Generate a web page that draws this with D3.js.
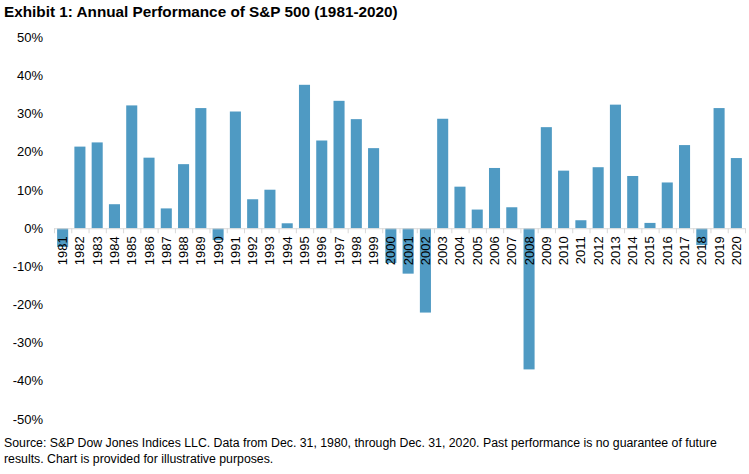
<!DOCTYPE html>
<html>
<head>
<meta charset="utf-8">
<script src="https://cdn.jsdelivr.net/npm/d3@7"></script>
<style>
  body { margin: 0; background: #fff; }
  text { font-family: Arial, "Liberation Sans", sans-serif; }
</style>
</head>
<body>
<div id="chart"></div>
<script>
    // data
    var years = [];
    for (var yr = 1981; yr <= 2020; yr++) years.push(String(yr));

    var returns = [-4.9, 21.4, 22.5, 6.3, 32.2, 18.5, 5.2, 16.8, 31.5, -3.1,
                   30.6, 7.6, 10.1, 1.3, 37.6, 23.0, 33.4, 28.6, 21.0, -9.1,
                   -11.9, -22.1, 28.7, 10.9, 4.9, 15.8, 5.5, -37.0, 26.5, 15.1,
                   2.1, 16.0, 32.4, 13.7, 1.4, 12.0, 21.8, -4.4, 31.5, 18.4];

    var yTicks = [50, 40, 30, 20, 10, 0, -10, -20, -30, -40, -50];

    var title = "Exhibit 1: Annual Performance of S&P 500 (1981-2020)";
    var source = ["Source: S&P Dow Jones Indices LLC. Data from Dec. 31, 1980, through Dec. 31, 2020. Past performance is no guarantee of future",
                  "results. Chart is provided for illustrative purposes."];

(function()
{
    "use strict";

    var W = 749, H = 474;
    var left = 54, right = 745, plotTop = 37.5, plotBottom = 419;

    var svg = d3.select("#chart").append("svg")
                .attr("width", W)
                .attr("height", H);

    // #########################################################################
    var xScale = d3.scaleBand()
                 .domain(years)
                 .range([left, right])
                 .paddingInner(0.36)
                 .paddingOuter(0.18);

    var yScale = d3.scaleLinear()
                 .domain([-50, 50])
                 .range([plotBottom, plotTop]);
    // #########################################################################

    svg.append("text")
       .attr("x", 4)
       .attr("y", 17)
       .attr("font-size", 15.3)
       .attr("font-weight", "bold")
       .text(title);

    // y tick labels, no gridlines
    svg.append("g").selectAll("text")
       .data(yTicks)
       .enter().append("text")
       .attr("x", 43)
       .attr("y", (d) => yScale(d) + 4.5)
       .attr("text-anchor", "end")
       .attr("font-size", 13)
       .attr("fill", "#000")
       .text((d) => d + "%");

    // bars
    svg.append("g").selectAll("rect")
       .data(returns)
       .enter().append("rect")
       .attr("x", (d, i) => xScale(years[i]))
       .attr("y", (d) => yScale(Math.max(0, d)))
       .attr("width", xScale.bandwidth())
       .attr("height", (d) => Math.abs(yScale(d) - yScale(0)))
       .attr("fill", "#4f9ac3");

    // zero axis with ticks between categories
    var step = xScale.step();
    var y0 = yScale(0);
    svg.append("line")
       .attr("x1", left).attr("x2", right)
       .attr("y1", y0 + 0.5).attr("y2", y0 + 0.5)
       .attr("stroke", "#d9d9d9");

    svg.append("g").selectAll("line")
       .data(d3.range(years.length + 1))
       .enter().append("line")
       .attr("x1", (i) => left + i * step + 0.5)
       .attr("x2", (i) => left + i * step + 0.5)
       .attr("y1", y0)
       .attr("y2", y0 + 5)
       .attr("stroke", "#d9d9d9");

    // year labels, rotated, drawn over the bars
    svg.append("g").selectAll("text")
       .data(years)
       .enter().append("text")
       .attr("transform", (d) => `translate(${xScale(d) + xScale.bandwidth() / 2 + 4.5},${y0 + 8}) rotate(-90)`)
       .attr("text-anchor", "end")
       .attr("font-size", 13)
       .attr("fill", "#000")
       .text((d) => d);

    svg.append("g").selectAll("text")
       .data(source)
       .enter().append("text")
       .attr("x", 4)
       .attr("y", (d, i) => 447 + i * 16)
       .attr("font-size", 12.3)
       .attr("fill", "#000")
       .text((d) => d);
}
)();
</script>
</body>
</html>
